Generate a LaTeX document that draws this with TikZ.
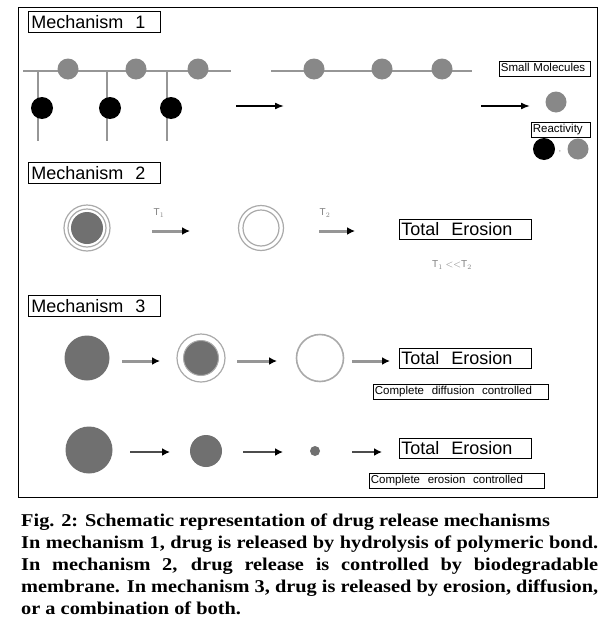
\documentclass[tikz,border=0pt]{standalone}
\usepackage{fontspec}
\usetikzlibrary{arrows.meta}
\newfontfamily\boxfont{Liberation Sans}
\newfontfamily\capfont{Liberation Serif}[FakeStretch=1.13]
\definecolor{molgray}{RGB}{136,136,136}
\definecolor{coregray}{RGB}{112,112,112}
\definecolor{ringgray}{RGB}{170,170,170}
\definecolor{chaingray}{RGB}{150,150,150}

\begin{document}
\begin{tikzpicture}[x=1pt, y=-1pt,
  titlebox/.style={draw, line width=0.9pt, anchor=north west, inner sep=3pt, text width=126pt,
    minimum height=21pt, font=\boxfont\fontsize{18}{18}\selectfont},
  erosionbox/.style={draw, line width=0.9pt, anchor=north west, inner sep=2pt, text width=128pt,
    minimum height=20pt, font=\boxfont\fontsize{18}{18}\selectfont},
  smallbox/.style={draw, line width=0.8pt, anchor=north west, inner sep=1.5pt, text height=9pt,
    text depth=2.5pt, font=\boxfont\fontsize{11.5}{12}\selectfont},
  chain/.style={chaingray, line width=1.6pt},
  molecule/.style={circle, fill=molgray, inner sep=0pt, minimum size=21pt},
  drug/.style={circle, fill=black, inner sep=0pt, minimum size=22pt},
  core/.style={circle, fill=coregray, inner sep=0pt},
  ring/.style={circle, draw=ringgray, line width=1.2pt, inner sep=0pt},
  tlabel/.style={text=gray, font=\boxfont\fontsize{10}{10}\selectfont, inner sep=0pt},
  arr/.style={line width=1.6pt, -{Latex[length=9pt, width=7pt]}},
  grayarr/.style={chaingray, line width=3pt, -{Latex[length=8pt, width=8pt, black]}},
  darkarr/.style={black!70, line width=2.2pt, -{Latex[length=8pt, width=8pt, black]}}]

\fill[white] (0,0) rectangle (603,637);
\useasboundingbox (0,0) rectangle (603,637);
\draw[line width=1pt] (18,7) rectangle (597,497);

% mechanism 1
\node[titlebox] (mech1) at (28,11) {Mechanism~~1};
\draw[chain] (23,71) -- (231,71);
\foreach \x in {38,107,167} \draw[chain, line width=1.4pt] (\x,71) -- (\x,141);
\node[molecule] (p1) at (68,69) {};
\node[molecule] (p2) at (136,69) {};
\node[molecule] (p3) at (198,69) {};
\node[drug] (d1) at (42,108) {};
\node[drug] (d2) at (110,108) {};
\node[drug] (d3) at (171,108) {};
\coordinate (h1) at (236,106);
\coordinate (h2) at (284,106);
\draw[arr] (h1) -- (h2);
\draw[chain] (271,71) -- (472,71);
\node[molecule] (q1) at (314,69) {};
\node[molecule] (q2) at (382,69) {};
\node[molecule] (q3) at (442,69) {};
\node[smallbox, text width=88pt] (small) at (499,61) {Small\ Molecules};
\coordinate (h3) at (481,106);
\coordinate (h4) at (530,106);
\draw[arr] (h3) -- (h4);
\node[molecule] (free) at (556,102) {};
\node[smallbox, text width=56pt] (react) at (531,122) {Reactivity};
\node[drug] (rd) at (544,149) {};
\node[molecule] (rm) at (578,149) {};
\node[tlabel, font=\boxfont\fontsize{8}{8}\selectfont] (comma) at (560,152) {,};

% mechanism 2
\node[titlebox] (mech2) at (28,162) {Mechanism~~2};
\node[ring, minimum size=46pt] (m2out) at (87,228) {};
\node[ring, minimum size=38pt] (m2in) at (87,228) {};
\node[core, minimum size=32pt] (m2core) at (87,228) {};
\node[tlabel] (t1) at (159,213) {T$_1$};
\coordinate (k1) at (152,231);
\coordinate (k2) at (190,231);
\draw[grayarr] (k1) -- (k2);
\node[ring, minimum size=45pt] (e2out) at (261,228) {};
\node[ring, minimum size=36pt] (e2in) at (261,228) {};
\node[tlabel] (t2) at (325,213) {T$_2$};
\coordinate (k3) at (319,231);
\coordinate (k4) at (355,231);
\draw[grayarr] (k3) -- (k4);
\node[erosionbox] (ero1) at (399,219) {Total\ \ Erosion};
\node[tlabel] (tcmp) at (452,265) {T$_1$ $<<$T$_2$};

% mechanism 3
\node[titlebox] (mech3) at (28,295) {Mechanism~~3};
\node[core, minimum size=45pt] (r1a) at (87,358) {};
\coordinate (s1) at (122,361);
\coordinate (s2) at (160,361);
\draw[grayarr] (s1) -- (s2);
\node[ring, minimum size=48pt] (r1b) at (201,358) {};
\node[core, draw=ringgray, line width=1pt, minimum size=35pt] (r1bc) at (201,358) {};
\coordinate (s3) at (237,361);
\coordinate (s4) at (277,361);
\draw[grayarr] (s3) -- (s4);
\node[ring, line width=1.6pt, minimum size=47pt] (r1c) at (320,358) {};
\coordinate (s5) at (352,361);
\coordinate (s6) at (390,361);
\draw[grayarr] (s5) -- (s6);
\node[erosionbox] (ero2) at (399,348) {Total\ \ Erosion};
\node[smallbox, text width=172pt] (diff) at (373,384) {Complete\ \ diffusion\ \ controlled};

\node[core, minimum size=47pt] (r2a) at (89,450) {};
\coordinate (u1) at (130,452);
\coordinate (u2) at (170,452);
\draw[darkarr] (u1) -- (u2);
\node[core, minimum size=32pt] (r2b) at (206,451) {};
\coordinate (u3) at (243,452);
\coordinate (u4) at (283,452);
\draw[darkarr] (u3) -- (u4);
\node[core, minimum size=10pt] (r2c) at (315,451) {};
\coordinate (u5) at (352,452);
\coordinate (u6) at (382,452);
\draw[darkarr] (u5) -- (u6);
\node[erosionbox] (ero3) at (399,438) {Total\ \ Erosion};
\node[smallbox, text width=172pt] (eros) at (369,473) {Complete\ \ erosion\ \ controlled};

% caption
\node[anchor=north west, inner sep=0pt, align=left, font=\capfont\bfseries\fontsize{18}{22}\selectfont] (cap) at (21,514)
  {Fig. 2: Schematic representation of drug release mechanisms\\
   \makebox[577pt][s]{In mechanism 1, drug is released by hydrolysis of polymeric bond.}\\
   \makebox[577pt][s]{In mechanism 2, drug release is controlled by biodegradable}\\
   \makebox[577pt][s]{membrane. In mechanism 3, drug is released by erosion, diffusion,}\\
   or a combination of both.};
\end{tikzpicture}
\end{document}
